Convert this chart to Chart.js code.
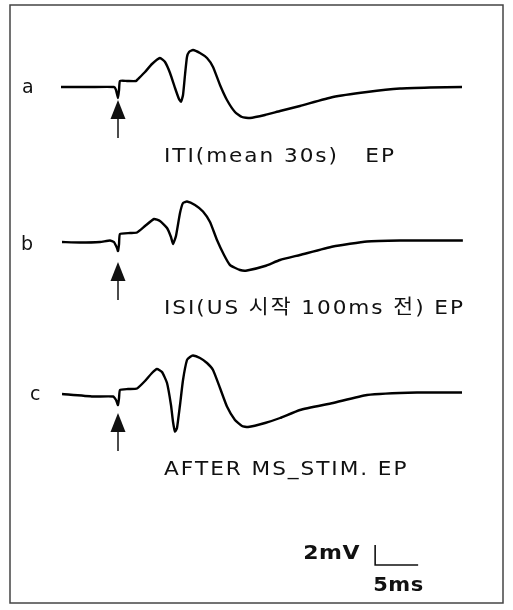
<!DOCTYPE html>
<html>
<head>
<meta charset="utf-8">
<script src="https://cdn.jsdelivr.net/npm/chart.js@4.4.1/dist/chart.umd.min.js"></script>
<style>
  html, body { margin: 0; padding: 0; background: #fff; }
  canvas { display: block; }
</style>
</head>
<body>
<canvas id="ep" width="513" height="610"></canvas>
<script>
// evoked potentials, time in ms from stimulus onset, amplitude in mV from each trace's baseline
const TRACE_A_T = [-6.63, -3.26, -0.47, -0.23, 0, 0.12, 0.23, 1.05, 2.09, 2.33, 3.14, 3.95, 4.88, 5.47, 6.05, 6.63, 7.09, 7.33, 7.56, 7.79, 8.02, 8.26, 8.72, 9.53, 10.35, 11.05, 11.86, 12.67, 13.6, 14.42, 15.35, 17.09, 18.84, 21.16, 25, 28.95, 32.79, 36.28, 40];
const TRACE_A_MV = [0, 0, 0, -0.3, -1.1, -0.3, 0.6, 0.6, 0.6, 0.8, 1.5, 2.3, 2.9, 2.5, 1.4, -0.1, -1.2, -1.47, -0.8, 1.2, 3.0, 3.5, 3.7, 3.4, 2.9, 2.0, 0.2, -1.3, -2.5, -3.0, -3.1, -2.8, -2.4, -1.9, -1.0, -0.5, -0.15, -0.05, 0];

const TRACE_B_T = [-6.51, -4.42, -2.09, -0.93, -0.47, -0.12, 0, 0.12, 0.23, 1.4, 2.21, 3.14, 4.19, 4.88, 5.7, 6.16, 6.4, 6.74, 7.21, 7.56, 8.02, 8.95, 9.88, 10.7, 11.51, 12.33, 13.02, 14.19, 15, 17.09, 18.84, 21.16, 25, 28.95, 32.79, 36.28, 40.1];
const TRACE_B_MV = [-0.05, -0.1, -0.05, 0.1, -0.05, -0.65, -0.95, -0.25, 0.75, 0.85, 0.9, 1.55, 2.25, 2.05, 1.35, 0.45, -0.25, 0.55, 2.85, 3.85, 4.0, 3.65, 3.0, 1.95, 0.15, -1.35, -2.35, -2.85, -2.9, -2.45, -1.85, -1.35, -0.5, 0, 0.1, 0.1, 0.1];

const TRACE_C_T = [-6.51, -2.91, -0.58, -0.23, 0, 0.12, 0.23, 1.16, 2.21, 3.14, 3.95, 4.53, 5.12, 5.7, 6.16, 6.4, 6.63, 6.86, 7.21, 7.56, 8.02, 8.37, 8.72, 9.53, 10.35, 11.05, 11.86, 12.67, 13.6, 14.42, 15.12, 17.09, 18.84, 21.16, 25, 28.95, 34.77, 40];
const TRACE_C_MV = [0, -0.25, -0.25, -0.6, -1.1, -0.4, 0.4, 0.5, 0.55, 1.3, 2.1, 2.5, 2.2, 1.1, -1.1, -2.8, -3.75, -3.4, -1.1, 1.4, 3.4, 3.7, 3.85, 3.6, 3.1, 2.4, 0.6, -1.25, -2.6, -3.2, -3.3, -2.9, -2.4, -1.6, -0.9, -0.1, 0.15, 0.15];

const TRACE_LABELS = ["a", "b", "c"];
const CAPTIONS = ["ITI(mean 30s)   EP", "ISI(US 시작 100ms 전) EP", "AFTER MS_STIM. EP"];
const TRACE_OFFSETS = [0, -15.45, -30.7];   // vertical stacking, mV
const ARROW_TIP_MV = [-1.3, -2.05, -1.9];   // stimulus marker tip, below baseline
const STIM_MS = 0;
const SCALE_MS = 5;
const SCALE_MV = 2;
const SCALE_CORNER = { t: 29.9, mv: -47.8 };

const traces = [
  [TRACE_A_T, TRACE_A_MV],
  [TRACE_B_T, TRACE_B_MV],
  [TRACE_C_T, TRACE_C_MV],
];

const datasets = traces.map(([ts, mvs], i) => ({
  label: TRACE_LABELS[i],
  data: ts.map((t, k) => ({ x: t, y: mvs[k] + TRACE_OFFSETS[i] })),
  showLine: true,
  borderColor: "#000",
  borderWidth: 2.4,
  pointRadius: 0,
  tension: 0.15,
  fill: false,
}));

// per-character drawing so the wide, loosely spaced lettering comes out right
function drawSpaced(ctx, text, x, y, spacing, stretch) {
  ctx.save();
  ctx.translate(x, y);
  ctx.scale(stretch, 1);
  let cx = 0;
  for (const ch of text) {
    ctx.fillText(ch, cx, 0);
    cx += ctx.measureText(ch).width + spacing;
  }
  ctx.restore();
}

const decor = {
  id: "decor",
  beforeDraw(chart) {
    const { ctx, width, height } = chart;
    ctx.save();
    ctx.fillStyle = "#fff";
    ctx.fillRect(0, 0, width, height);
    ctx.restore();
  },
  afterDraw(chart) {
    const { ctx } = chart;
    const xs = chart.scales.x;
    const ys = chart.scales.y;
    ctx.save();

    // frame
    ctx.strokeStyle = "#444";
    ctx.lineWidth = 1.5;
    ctx.strokeRect(10, 5, 493, 598);

    ctx.fillStyle = "#111";
    ctx.strokeStyle = "#111";
    ctx.textBaseline = "alphabetic";
    const labelDy = [6, 8, 6];
    const labelX = [22, 21, 30];
    const captionDy = [75, 72, 81];
    const sx = xs.getPixelForValue(STIM_MS);

    TRACE_OFFSETS.forEach((off, i) => {
      const base = ys.getPixelForValue(off);

      ctx.font = "19px 'DejaVu Sans'";
      ctx.fillText(TRACE_LABELS[i], labelX[i], base + labelDy[i]);

      ctx.font = "20px 'DejaVu Sans', 'Noto Sans CJK KR'";
      drawSpaced(ctx, CAPTIONS[i], 164, base + captionDy[i], 1.8, 1.08);

      // stimulus arrow
      const tip = ys.getPixelForValue(off + ARROW_TIP_MV[i]);
      ctx.beginPath();
      ctx.moveTo(sx, tip);
      ctx.lineTo(sx + 7.5, tip + 19);
      ctx.lineTo(sx - 7.5, tip + 19);
      ctx.closePath();
      ctx.fill();
      ctx.lineWidth = 1.5;
      ctx.beginPath();
      ctx.moveTo(sx, tip + 19);
      ctx.lineTo(sx, tip + 38);
      ctx.stroke();
    });

    // calibration bar
    const cx = xs.getPixelForValue(SCALE_CORNER.t);
    const cy = ys.getPixelForValue(SCALE_CORNER.mv);
    const top = ys.getPixelForValue(SCALE_CORNER.mv + SCALE_MV);
    const right = xs.getPixelForValue(SCALE_CORNER.t + SCALE_MS);
    ctx.lineWidth = 1.6;
    ctx.beginPath();
    ctx.moveTo(cx, top);
    ctx.lineTo(cx, cy);
    ctx.lineTo(right, cy);
    ctx.stroke();

    ctx.font = "bold 20px 'DejaVu Sans'";
    drawSpaced(ctx, SCALE_MV + "mV", cx - 72, cy - 6, 0.5, 1.1);
    drawSpaced(ctx, SCALE_MS + "ms", cx - 2, cy + 26, 0.5, 1.05);

    ctx.restore();
  },
};

new Chart(document.getElementById("ep"), {
  type: "scatter",
  data: { datasets },
  options: {
    responsive: false,
    animation: false,
    layout: { padding: 0 },
    plugins: { legend: { display: false }, tooltip: { enabled: false } },
    scales: {
      x: { type: "linear", display: false, min: -118 / 8.6, max: 395 / 8.6 },
      y: { type: "linear", display: false, min: -52.3, max: 8.7 },
    },
  },
  plugins: [decor],
});
</script>
</body>
</html>
